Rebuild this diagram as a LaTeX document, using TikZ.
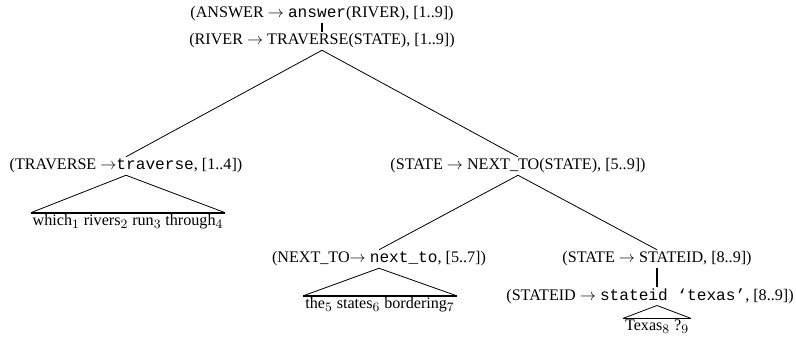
\documentclass[tikz,border=0pt]{standalone}
\usepackage{fontspec}
\setmainfont{Liberation Serif}
\setmonofont{Liberation Mono}
\DeclareMathSizes{10}{10}{8}{6}
\begin{document}
\begin{tikzpicture}[x=0.62pt, y=-0.62pt,
    rule/.style={inner sep=1pt},
    words/.style={inner sep=1pt},
    edge/.style={line width=0.5pt},
    link/.style={line width=1pt},
    base/.style={line width=1pt}]
  \useasboundingbox (0,0) rectangle (796,337);

  % rule nodes
  \node[rule] (ans) at (322,14) {(ANSWER $\rightarrow$ \texttt{answer}(RIVER), [1..9])};
  \node[rule] (river) at (322,41) {(RIVER $\rightarrow$ TRAVERSE(STATE), [1..9])};
  \node[rule] (trav) at (126,166) {(TRAVERSE $\rightarrow$\texttt{traverse}, [1..4])};
  \node[rule] (state) at (518,166) {(STATE $\rightarrow$ NEXT\_TO(STATE), [5..9])};
  \node[rule] (nextto) at (379,259) {(NEXT\_TO$\rightarrow$ \texttt{next\_to}, [5..7])};
  \node[rule] (stateb) at (657,259) {(STATE $\rightarrow$ STATEID, [8..9])};
  \node[rule] (stateid) at (650,296) {(STATEID $\rightarrow$ \texttt{stateid ‘texas’}, [8..9])};

  % yields
  \node[words] (travw) at (128,222) {which$_1$ rivers$_2$ run$_3$ through$_4$};
  \node[words] (nexttow) at (380,305) {the$_5$ states$_6$ bordering$_7$};
  \node[words] (stateidw) at (657,327) {Texas$_8$ ?$_9$};

  % tree edges
  \draw[link] (ans) -- (river);
  \draw[edge] (river.south) -- (trav.north);
  \draw[edge] (river.south) -- (state.north);
  \draw[edge] (state.south) -- (nextto.north);
  \draw[edge] (state.south) -- (stateb.north);
  \draw[link] (stateb.south) -- (stateb.south |- stateid.north);

  % triangles
  \draw[edge] (travw.north west) -- (trav.south) -- (travw.north east);
  \draw[base] (travw.north west) -- (travw.north east);
  \draw[edge] (nexttow.north west) -- (nextto.south) -- (nexttow.north east);
  \draw[base] (nexttow.north west) -- (nexttow.north east);
  \draw[edge] (stateidw.north west) -- (stateidw.north |- stateid.south) -- (stateidw.north east);
  \draw[base] (stateidw.north west) -- (stateidw.north east);
\end{tikzpicture}
\end{document}
